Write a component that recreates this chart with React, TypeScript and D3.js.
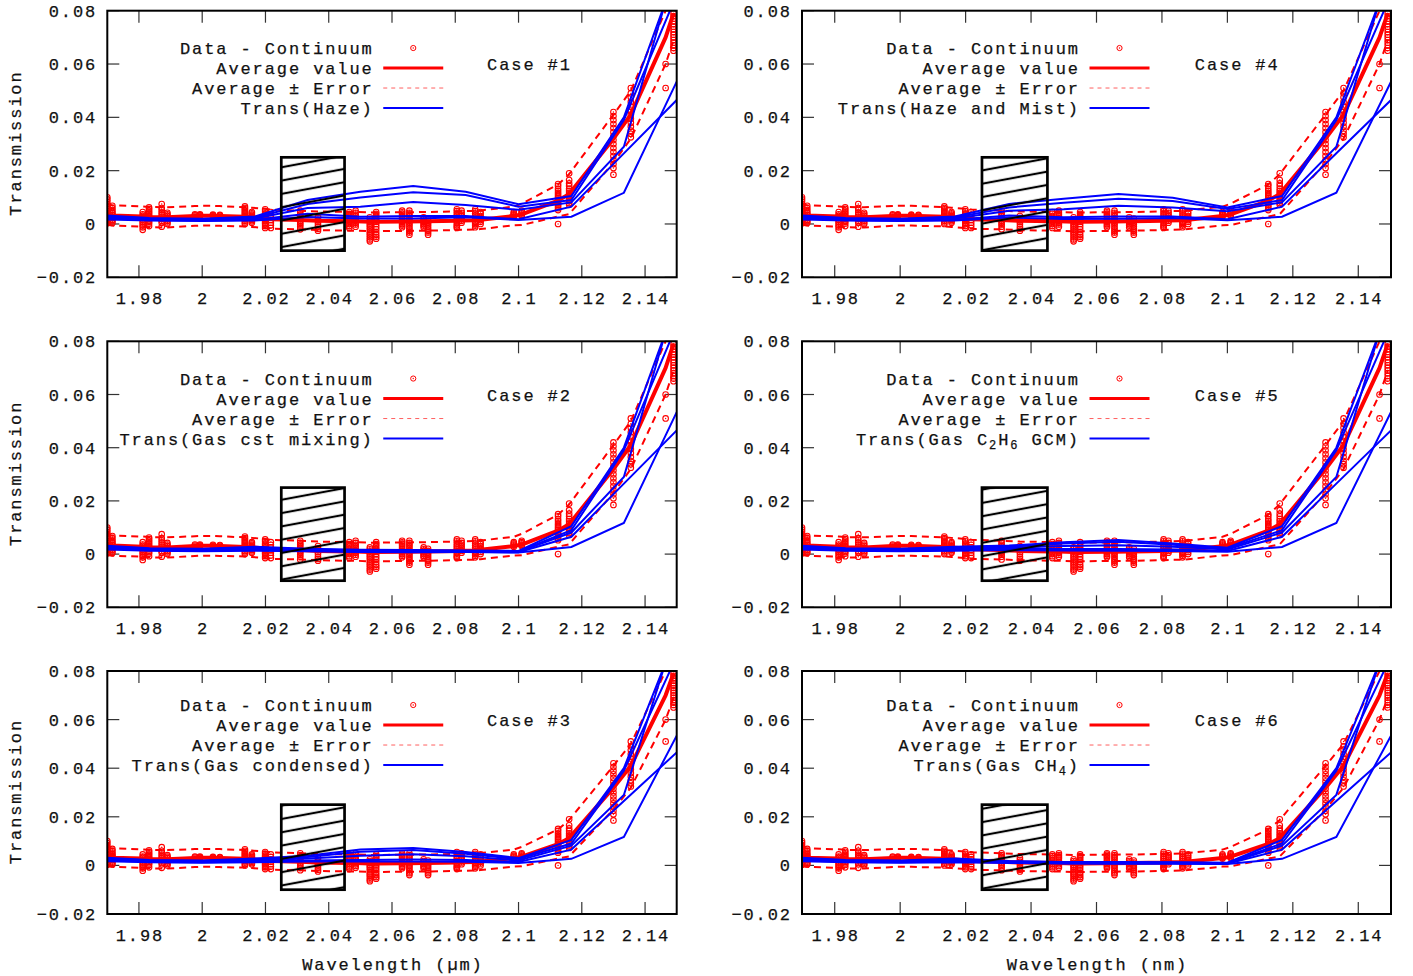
import React, { useRef, useEffect } from 'react';
import * as d3 from 'd3';

const W = 1413;
const H = 976;

const X_TICKS = [1.98, 2.0, 2.02, 2.04, 2.06, 2.08, 2.1, 2.12, 2.14];
const X_TICK_LABELS = ['1.98', '2', '2.02', '2.04', '2.06', '2.08', '2.1', '2.12', '2.14'];
const Y_TICKS = [-0.02, 0, 0.02, 0.04, 0.06, 0.08];
const Y_TICK_LABELS = ['\u22120.02', '0', '0.02', '0.04', '0.06', '0.08'];

// measured data clusters (wavelength -> transmission values)
const DATA_WL = [
  1.97, 1.9716, 1.9812, 1.9832, 1.9872, 1.989, 1.9977, 1.9993, 2.0034, 2.0056,
  2.0135, 2.0157, 2.0199, 2.0217, 2.031, 2.0366, 2.0465, 2.0485, 2.053, 2.055,
  2.0632, 2.0655, 2.07, 2.0714, 2.0805, 2.082, 2.0863, 2.088, 2.0985, 2.101,
  2.1125, 2.116, 2.13, 2.1355, 2.1465, 2.149,
];
const DATA_VALUES = [
  [0.01, 0.0092, 0.0084, 0.0075, 0.0068, 0.0062, 0.0055, 0.005, 0.0044, 0.004, 0.0035, 0.003, 0.0025, 0.002, 0.0015, 0.001, 0.0005, 0.0003],
  [0.0068, 0.006, 0.0052, 0.0045, 0.004, 0.0034, 0.0028, 0.0022, 0.0016, 0.001, 0.0004],
  [0.0045, 0.0036, 0.003, 0.0022, 0.0016, 0.0008, 0.0002, -0.0006, -0.0012, -0.0022],
  [0.0062, 0.0056, 0.005, 0.0044, 0.0038, 0.0032, 0.0026, 0.002, 0.0014, 0.0008, 0.0002, -0.0008],
  [0.0075, 0.006, 0.0052, 0.0044, 0.0036, 0.0028, 0.002, 0.0012, 0.0005, -0.001],
  [0.0042, 0.0036, 0.003, 0.0024, 0.0018, 0.0012, 0.0006, 0.0],
  [0.0036, 0.0032, 0.0028],
  [0.0036, 0.0033, 0.003],
  [0.0035, 0.0032, 0.0029],
  [0.0034, 0.0031, 0.0028],
  [0.0066, 0.006, 0.0055, 0.005, 0.0045, 0.004, 0.0035, 0.003, 0.0025, 0.0018, 0.0012, 0.0006, 0.0],
  [0.0045, 0.004, 0.0035, 0.003, 0.0025, 0.002, 0.0015, 0.001, 0.0005],
  [0.0055, 0.0048, 0.004, 0.0035, 0.003, 0.0025, 0.002, 0.0015, 0.001, 0.0005, 0.0, -0.0008, -0.0015],
  [0.0045, 0.0035, 0.0025, 0.0015, 0.0005, -0.0005, -0.0015],
  [0.005, 0.0042, 0.0035, 0.0028, 0.002, 0.0012, 0.0005, -0.0002, -0.001, -0.002],
  [0.003, 0.0022, 0.0015, 0.0008, 0.0, -0.001, -0.0018, -0.0025],
  [0.0045, 0.0038, 0.003, 0.0022, 0.0015, 0.0008, 0.0, -0.0008, -0.0015],
  [0.005, 0.0042, 0.0035, 0.0028, 0.002, 0.0012, 0.0005, -0.0002, -0.001],
  [0.0025, 0.0018, 0.001, 0.0002, -0.0005, -0.0012, -0.002, -0.0028, -0.0035, -0.0042, -0.005, -0.0058, -0.0065],
  [0.0045, 0.0038, 0.003, 0.0022, 0.0015, 0.0008, 0.0, -0.001, -0.002, -0.003, -0.004, -0.0048, -0.0055],
  [0.005, 0.0044, 0.0038, 0.0032, 0.0025, 0.0018, 0.0012, 0.0006, 0.0, -0.0006, -0.0012],
  [0.005, 0.0042, 0.0035, 0.0028, 0.002, 0.0012, 0.0005, -0.0002, -0.001, -0.0018, -0.0025, -0.0032, -0.004],
  [0.0025, 0.0018, 0.0012, 0.0006, 0.0, -0.0006, -0.0012],
  [0.002, 0.0012, 0.0005, -0.0002, -0.001, -0.0018, -0.0025, -0.0032, -0.004],
  [0.0055, 0.0048, 0.004, 0.0032, 0.0025, 0.0018, 0.001, 0.0002, -0.0005, -0.001, -0.0015],
  [0.005, 0.0042, 0.0035, 0.0028, 0.002, 0.0012, 0.0005],
  [0.0055, 0.0048, 0.004, 0.0032, 0.0025, 0.0018, 0.001, 0.0005, 0.0, -0.0006, -0.0012],
  [0.0045, 0.0038, 0.003, 0.0022, 0.0015, 0.0008, 0.0],
  [0.0045, 0.004, 0.0036, 0.0032, 0.0028],
  [0.005, 0.0045, 0.004, 0.0035, 0.003],
  [0.015, 0.0142, 0.0132, 0.0124, 0.0116, 0.0109, 0.0102, 0.0096, 0.009, 0.0084, 0.0078, 0.0072, 0.0066, 0.0059, 0.0052, 0.0],
  [0.019, 0.0165, 0.0152, 0.0142, 0.0132, 0.0124, 0.0116, 0.0108, 0.01, 0.0093, 0.0086, 0.0079, 0.0072],
  [0.042, 0.0405, 0.039, 0.0375, 0.036, 0.0345, 0.033, 0.0315, 0.03, 0.0285, 0.027, 0.0255, 0.024, 0.0225, 0.021, 0.0185],
  [0.051, 0.049, 0.0475, 0.0458, 0.044, 0.0425, 0.041, 0.0395, 0.038, 0.0365, 0.035, 0.0338, 0.0325],
  [0.06, 0.051],
  [0.079, 0.078, 0.077, 0.076, 0.075, 0.074, 0.073, 0.072, 0.071, 0.07, 0.069, 0.068, 0.067, 0.066, 0.065],
];
const AVG_VALUE = [
  0.0035, 0.0032, 0.0028, 0.0026, 0.0025, 0.0025, 0.003, 0.0031, 0.0031, 0.003,
  0.0027, 0.0025, 0.0021, 0.0018, 0.0015, 0.0012, 0.001, 0.001, 0.0008, 0.0008,
  0.0009, 0.0009, 0.001, 0.001, 0.0012, 0.0013, 0.0014, 0.0016, 0.003, 0.0036,
  0.0088, 0.0112, 0.032, 0.041, 0.07, 0.079,
];
const AVG_ERROR = [
  0.0038, 0.0038, 0.0038, 0.0038, 0.0038, 0.0038, 0.0037, 0.0037, 0.0037, 0.0037,
  0.0036, 0.0036, 0.0036, 0.0036, 0.0035, 0.0035, 0.0035, 0.0035, 0.0035, 0.0035,
  0.0035, 0.0035, 0.0035, 0.0035, 0.0035, 0.0035, 0.0035, 0.0035, 0.0035, 0.004,
  0.006, 0.0075, 0.009, 0.009, 0.01, 0.01,
];

// model transmission, 5 curves, on a common wavelength grid
const MODEL_WL = [1.9667, 1.9833, 2.0, 2.0167, 2.0333, 2.05, 2.0667, 2.0833, 2.1, 2.1167, 2.1333, 2.15];
const MODEL_LEFT = [
  [0.0034, 0.0022, 0.002, 0.0028],
  [0.003, 0.002, 0.0018, 0.0024],
  [0.0026, 0.0018, 0.0016, 0.0021],
  [0.0022, 0.0015, 0.0013, 0.0016],
  [0.0018, 0.0013, 0.0011, 0.0013],
];
const MODEL_RIGHT = [
  [0.0105, 0.04, 0.095],
  [0.009, 0.039, 0.086],
  [0.0081, 0.029, 0.098],
  [0.0065, 0.0265, 0.0465],
  [0.0027, 0.0117, 0.0534],
];
const MID_HAZE = [
  [0.009, 0.0121, 0.0142, 0.0121, 0.0074],
  [0.0075, 0.0099, 0.0119, 0.0109, 0.0065],
  [0.006, 0.0065, 0.0082, 0.0071, 0.0053],
  [0.0038, 0.0027, 0.003, 0.003, 0.0018],
  [0.0026, 0.0021, 0.0021, 0.0025, 0.0015],
];
const MID_GAS_CST = [
  [0.002, 0.0016, 0.0015, 0.0014, 0.0012],
  [0.0018, 0.0014, 0.0013, 0.0012, 0.001],
  [0.0016, 0.0012, 0.0011, 0.0011, 0.0009],
  [0.0013, 0.001, 0.0009, 0.0009, 0.0007],
  [0.0011, 0.0008, 0.0007, 0.0008, 0.0006],
];
const MID_GAS_COND = [
  [0.004, 0.0065, 0.0072, 0.0055, 0.003],
  [0.0035, 0.0056, 0.0063, 0.0048, 0.0026],
  [0.0028, 0.004, 0.0046, 0.0038, 0.002],
  [0.002, 0.0022, 0.0024, 0.0022, 0.0014],
  [0.0016, 0.0016, 0.0016, 0.0015, 0.001],
];
const MID_HAZE_MIST = [
  [0.0075, 0.0095, 0.0112, 0.0098, 0.0062],
  [0.0062, 0.008, 0.0095, 0.0086, 0.0056],
  [0.005, 0.0055, 0.0068, 0.0062, 0.0048],
  [0.0032, 0.0025, 0.0028, 0.0028, 0.0018],
  [0.0024, 0.0019, 0.002, 0.0022, 0.0014],
];
const MID_C2H6 = [
  [0.0032, 0.0045, 0.0053, 0.004, 0.0024],
  [0.0028, 0.004, 0.0046, 0.0035, 0.0021],
  [0.0024, 0.003, 0.0033, 0.0028, 0.0017],
  [0.0019, 0.0019, 0.0019, 0.0017, 0.0012],
  [0.0015, 0.0014, 0.0013, 0.0012, 0.0009],
];
const MID_CH4 = [
  [0.0018, 0.0014, 0.0014, 0.0013, 0.0011],
  [0.0016, 0.0013, 0.0012, 0.0012, 0.001],
  [0.0014, 0.0011, 0.0011, 0.001, 0.0008],
  [0.0012, 0.0009, 0.0009, 0.0009, 0.0007],
  [0.001, 0.0008, 0.0007, 0.0007, 0.0006],
];

// excluded band (hatched box)
const BAND_WL = [2.025, 2.045];
const BAND_T = [-0.01, 0.025];

const PANELS = [
  { col: 0, row: 0, title: 'Case #1', model: [['Trans(Haze)', '']], mid: MID_HAZE },
  { col: 0, row: 1, title: 'Case #2', model: [['Trans(Gas cst mixing)', '']], mid: MID_GAS_CST },
  { col: 0, row: 2, title: 'Case #3', model: [['Trans(Gas condensed)', '']], mid: MID_GAS_COND },
  { col: 1, row: 0, title: 'Case #4', model: [['Trans(Haze and Mist)', '']], mid: MID_HAZE_MIST },
  {
    col: 1, row: 1, title: 'Case #5',
    model: [['Trans(Gas C', ''], ['2', 'sub'], ['H', ''], ['6', 'sub'], [' GCM)', '']],
    mid: MID_C2H6,
  },
  { col: 1, row: 2, title: 'Case #6', model: [['Trans(Gas CH', ''], ['4', 'sub'], [')', '']], mid: MID_CH4 },
];

const COLS = [{ x0: 107.3, x1: 676.7 }, { x0: 802, x1: 1391 }];
const ROWS = [{ y0: 10.7, y1: 277.3 }, { y0: 341.3, y1: 607.3 }, { y0: 671, y1: 914 }];

const FONT = '"Liberation Mono", "DejaVu Sans Mono", monospace';
const FS = 17;
const LS = 1.9;

const App = () => {
  const svgRef = useRef<SVGSVGElement>(null);

  useEffect(() => {
    const svg = d3.select(svgRef.current);
    svg.selectAll('*').remove();

    svg.append('rect').attr('width', W).attr('height', H).attr('fill', 'white');

    const defs = svg.append('defs');
    const pat = defs.append('pattern')
      .attr('id', 'hatch')
      .attr('patternUnits', 'userSpaceOnUse')
      .attr('width', 20)
      .attr('height', 13.3)
      .attr('patternTransform', 'skewY(-10.5)');
    pat.append('line')
      .attr('x1', -1).attr('x2', 21)
      .attr('y1', 6.65).attr('y2', 6.65)
      .attr('stroke', 'black')
      .attr('stroke-width', 2.2);

    // y is the visual centre line of the text
    const text = (g: any, x: number, y: number, s: string, anchor = 'start') => {
      const dx = anchor === 'end' ? LS : anchor === 'middle' ? LS / 2 : 0;
      return g.append('text')
        .attr('x', x + dx)
        .attr('y', y + 6)
        .attr('text-anchor', anchor)
        .attr('font-family', FONT)
        .attr('font-size', FS)
        .attr('letter-spacing', LS)
        .attr('fill', '#111')
        .attr('stroke', '#111')
        .attr('stroke-width', 0.25)
        .text(s);
    };

    const points = DATA_WL.flatMap((wl, k) => DATA_VALUES[k].map(v => [wl, v]));

    PANELS.forEach((p, i) => {
      const c = COLS[p.col];
      const r = ROWS[p.row];
      const w = c.x1 - c.x0;
      const h = r.y1 - r.y0;

      const x = d3.scaleLinear().domain([1.97, 2.15]).range([c.x0, c.x1]);
      const y = d3.scaleLinear().domain([-0.02, 0.08]).range([r.y1, r.y0]);

      defs.append('clipPath').attr('id', `clip${i}`)
        .append('rect')
        .attr('x', c.x0).attr('y', r.y0)
        .attr('width', w).attr('height', h);

      const g = svg.append('g');

      // ticks
      X_TICKS.forEach((t, k) => {
        g.append('line').attr('x1', x(t)).attr('x2', x(t)).attr('y1', r.y1).attr('y2', r.y1 - 12)
          .attr('stroke', '#333').attr('stroke-width', 1.2);
        g.append('line').attr('x1', x(t)).attr('x2', x(t)).attr('y1', r.y0).attr('y2', r.y0 + 12)
          .attr('stroke', '#333').attr('stroke-width', 1.2);
        text(g, x(t), r.y1 + 21, X_TICK_LABELS[k], 'middle');
      });
      Y_TICKS.forEach((t, k) => {
        g.append('line').attr('x1', c.x0).attr('x2', c.x0 + 12).attr('y1', y(t)).attr('y2', y(t))
          .attr('stroke', '#333').attr('stroke-width', 1.2);
        g.append('line').attr('x1', c.x1).attr('x2', c.x1 - 12).attr('y1', y(t)).attr('y2', y(t))
          .attr('stroke', '#333').attr('stroke-width', 1.2);
        text(g, c.x0 - 12, y(t), Y_TICK_LABELS[k], 'end');
      });

      const plot = g.append('g').attr('clip-path', `url(#clip${i})`);

      // data points
      const pg = plot.append('g');
      points.forEach(([wl, v]) => {
        pg.append('circle').attr('cx', x(wl)).attr('cy', y(v)).attr('r', 2.8)
          .attr('fill', 'none').attr('stroke', 'red').attr('stroke-width', 1.1);
        pg.append('circle').attr('cx', x(wl)).attr('cy', y(v)).attr('r', 0.7).attr('fill', 'red');
      });

      // average and error
      const avgLine = d3.line<number>().x((_, k) => x(DATA_WL[k])).y(v => y(v));
      plot.append('path')
        .attr('d', avgLine(AVG_VALUE))
        .attr('fill', 'none').attr('stroke', 'red').attr('stroke-width', 4)
        .attr('stroke-linejoin', 'round');
      [1, -1].forEach(sgn => {
        plot.append('path')
          .attr('d', avgLine(AVG_VALUE.map((v, k) => v + sgn * AVG_ERROR[k])))
          .attr('fill', 'none').attr('stroke', 'red').attr('stroke-width', 2)
          .attr('stroke-dasharray', '7,5');
      });

      // model curves
      const modelLine = d3.line<number>().x((_, k) => x(MODEL_WL[k])).y(v => y(v));
      for (let m = 0; m < 5; m++) {
        const vals = [...MODEL_LEFT[m], ...p.mid[m], ...MODEL_RIGHT[m]];
        plot.append('path')
          .attr('d', modelLine(vals))
          .attr('fill', 'none').attr('stroke', '#0000ff').attr('stroke-width', 2);
      }

      // hatched band
      g.append('rect')
        .attr('x', x(BAND_WL[0])).attr('y', y(BAND_T[1]))
        .attr('width', x(BAND_WL[1]) - x(BAND_WL[0]))
        .attr('height', y(BAND_T[0]) - y(BAND_T[1]))
        .attr('fill', 'url(#hatch)')
        .attr('stroke', 'black').attr('stroke-width', 2.7);

      // border
      g.append('rect')
        .attr('x', c.x0).attr('y', r.y0).attr('width', w).attr('height', h)
        .attr('fill', 'none').attr('stroke', 'black').attr('stroke-width', 2);

      // legend
      const sEnd = c.x0 + 0.59 * w;
      const sStart = sEnd - 60;
      const tEnd = sEnd - 71.5;
      const ly = r.y0 + 0.14 * h;
      text(g, tEnd, ly, 'Data - Continuum', 'end');
      g.append('circle').attr('cx', (sStart + sEnd) / 2).attr('cy', ly).attr('r', 2.6)
        .attr('fill', 'none').attr('stroke', 'red').attr('stroke-width', 1);
      g.append('circle').attr('cx', (sStart + sEnd) / 2).attr('cy', ly).attr('r', 0.7).attr('fill', 'red');
      text(g, tEnd, ly + 20, 'Average value', 'end');
      g.append('line').attr('x1', sStart).attr('x2', sEnd).attr('y1', ly + 20).attr('y2', ly + 20)
        .attr('stroke', 'red').attr('stroke-width', 3);
      text(g, tEnd, ly + 40, 'Average \u00b1 Error', 'end');
      g.append('line').attr('x1', sStart).attr('x2', sEnd).attr('y1', ly + 40).attr('y2', ly + 40)
        .attr('stroke', '#ff6060').attr('stroke-width', 1).attr('stroke-dasharray', '4,4');
      const mt = text(g, tEnd, ly + 60, '', 'end');
      let lowered = false;
      p.model.forEach(([s, kind]) => {
        if (kind === 'sub') {
          mt.append('tspan').attr('font-size', 12).attr('dy', 4).text(s);
          lowered = true;
        } else {
          mt.append('tspan').attr('dy', lowered ? -4 : 0).text(s);
          lowered = false;
        }
      });
      g.append('line').attr('x1', sStart).attr('x2', sEnd).attr('y1', ly + 60).attr('y2', ly + 60)
        .attr('stroke', '#0000ff').attr('stroke-width', 2);

      // case label
      text(g, c.x0 + 0.667 * w, r.y0 + 0.2 * h, p.title, 'start');

      if (p.col === 0) {
        text(g, 0, 0, 'Transmission', 'middle')
          .attr('transform', `translate(15,${(r.y0 + r.y1) / 2}) rotate(-90)`)
          .attr('y', 6);
      }
      if (p.row === 2) {
        text(g, (c.x0 + c.x1) / 2, 964, p.col === 0 ? 'Wavelength (\u00b5m)' : 'Wavelength (nm)', 'middle');
      }
    });
  }, []);

  return (
    <svg
      ref={svgRef}
      width={W}
      height={H}
      style={{ position: 'absolute', left: 0, top: 0, display: 'block' }}
    ></svg>
  );
};

export default App;
